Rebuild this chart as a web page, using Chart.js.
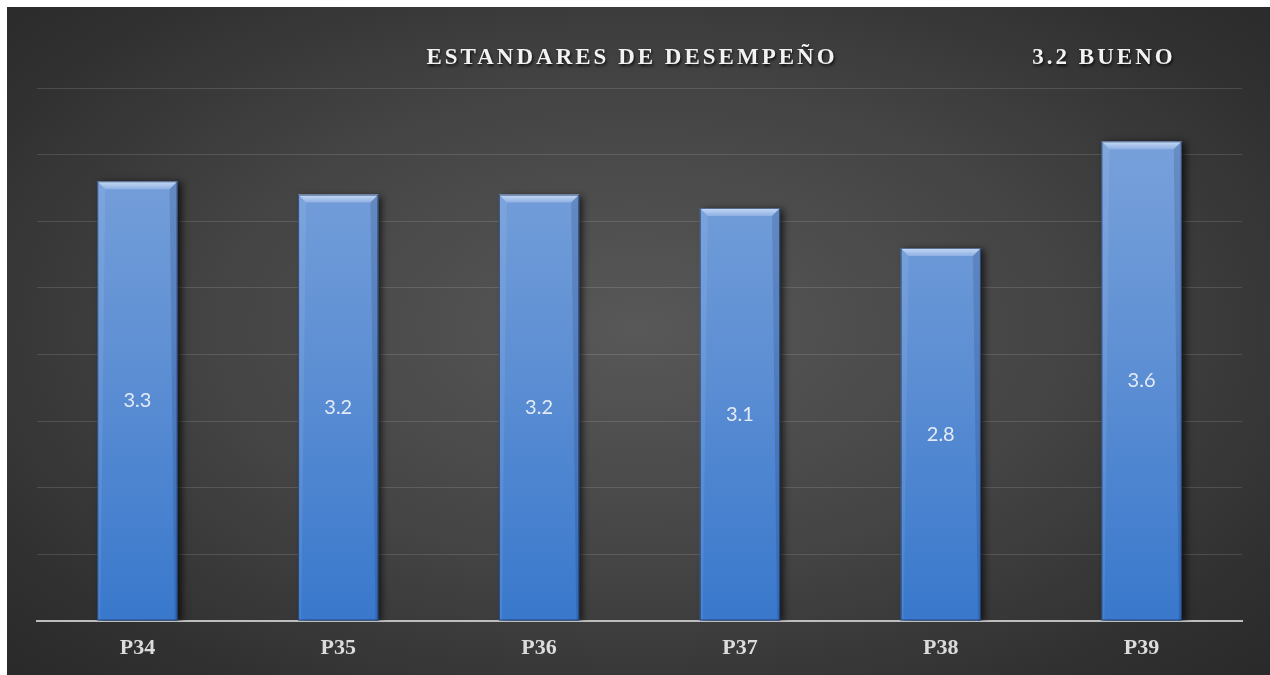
<!DOCTYPE html>
<html lang="es">
<head>
    <meta charset="UTF-8">
    <title>Estandares de desempeño</title>
    <script src="https://cdn.jsdelivr.net/npm/chart.js"></script>
    <style>
        html, body { margin: 0; padding: 0; background: #fff; }
        .panel {
            position: absolute; left: 7px; top: 7px;
            width: 1263px; height: 668px;
            background: radial-gradient(ellipse 75% 80% at 50% 48%, #585858 0%, #444 45%, #2f2f2f 80%, #272727 100%);
        }
    </style>
</head>
<body>
    <div class="panel">
        <canvas id="myChart"></canvas>
    </div>

    <script>
        // datos
        const preguntas = ["P34", "P35", "P36", "P37", "P38", "P39"];
        const promedios = [3.3, 3.2, 3.2, 3.1, 2.8, 3.6];
        const escala = { min: 0, max: 4, paso: 0.5 };
        const titulo = "ESTANDARES DE DESEMPEÑO";
        const resultado = "3.2 BUENO";

        // sombra detras de las barras
        const sombraBarras = {
            id: 'sombraBarras',
            beforeDatasetsDraw(chart) {
                const ctx = chart.ctx;
                ctx.save();
                ctx.shadowColor = 'rgba(0,0,0,0.65)';
                ctx.shadowBlur = 7;
                ctx.shadowOffsetX = 4;
                ctx.shadowOffsetY = 1;
            },
            afterDatasetsDraw(chart) {
                chart.ctx.restore();
            }
        };

        // bisel, borde y etiquetas de valor
        const biselBarras = {
            id: 'biselBarras',
            afterDatasetsDraw(chart) {
                const ctx = chart.ctx;
                const meta = chart.getDatasetMeta(0);
                meta.data.forEach((bar, i) => {
                    const p = bar.getProps(['x', 'y', 'width', 'base'], true);
                    const l = p.x - p.width / 2, r = p.x + p.width / 2;
                    const t = p.y, b = p.base, bv = 8;
                    ctx.save();
                    // bisel superior
                    let g = ctx.createLinearGradient(0, t, 0, t + bv);
                    g.addColorStop(0, '#c8dbf5');
                    g.addColorStop(1, '#8fb0e3');
                    ctx.fillStyle = g;
                    ctx.beginPath();
                    ctx.moveTo(l, t); ctx.lineTo(r, t);
                    ctx.lineTo(r - bv, t + bv); ctx.lineTo(l + bv, t + bv);
                    ctx.closePath(); ctx.fill();
                    // lados
                    ctx.fillStyle = 'rgba(255,255,255,0.08)';
                    ctx.beginPath();
                    ctx.moveTo(l, t); ctx.lineTo(l + bv, t + bv);
                    ctx.lineTo(l + 3, b); ctx.lineTo(l, b);
                    ctx.closePath(); ctx.fill();
                    ctx.fillStyle = 'rgba(0,0,30,0.12)';
                    ctx.beginPath();
                    ctx.moveTo(r, t); ctx.lineTo(r - bv, t + bv);
                    ctx.lineTo(r - 3, b); ctx.lineTo(r, b);
                    ctx.closePath(); ctx.fill();
                    // contorno
                    ctx.strokeStyle = 'rgba(25,45,85,0.7)';
                    ctx.lineWidth = 1;
                    ctx.strokeRect(l + 0.5, t + 0.5, p.width - 1, b - t - 1);
                    // valor
                    ctx.fillStyle = '#e4ebf7';
                    ctx.font = '20px Lato';
                    ctx.textAlign = 'center';
                    ctx.textBaseline = 'middle';
                    ctx.fillText(promedios[i].toFixed(1), p.x, (t + b) / 2);
                    ctx.restore();
                });
            }
        };

        // titulos con espaciado y sombra
        const titulos = {
            id: 'titulos',
            afterDraw(chart) {
                const ctx = chart.ctx;
                ctx.save();
                ctx.font = 'bold 23px "Liberation Serif"';
                ctx.letterSpacing = '3px';
                ctx.textAlign = 'center';
                ctx.textBaseline = 'middle';
                ctx.shadowColor = 'rgba(0,0,0,0.8)';
                ctx.shadowBlur = 3;
                ctx.shadowOffsetX = 1;
                ctx.shadowOffsetY = 2;
                ctx.fillStyle = '#f2f2f2';
                ctx.fillText(titulo, 625, 51);
                ctx.fillText(resultado, 1097, 51);
                ctx.restore();
            }
        };

        const ctx = document.getElementById('myChart').getContext('2d');
        const myChart = new Chart(ctx, {
            type: 'bar',
            data: {
                labels: preguntas,
                datasets: [{
                    data: promedios,
                    backgroundColor: (c) => {
                        const area = c.chart.chartArea;
                        if (!area) return '#5b8ed5';
                        const g = c.chart.ctx.createLinearGradient(0, area.top, 0, area.bottom);
                        g.addColorStop(0, '#7ea5dc');
                        g.addColorStop(0.5, '#5f90d4');
                        g.addColorStop(1, '#3978cc');
                        return g;
                    },
                    borderWidth: 0,
                    barPercentage: 0.4,
                    categoryPercentage: 1
                }]
            },
            options: {
                responsive: true,
                maintainAspectRatio: false,
                animation: false,
                layout: { padding: { left: 30, right: 28, top: 81, bottom: 0 } },
                plugins: {
                    legend: { display: false },
                    tooltip: { enabled: false }
                },
                scales: {
                    x: {
                        grid: { display: false, drawTicks: false },
                        border: { display: true, color: '#bdbdbd', width: 2 },
                        ticks: {
                            color: '#dcdcdc',
                            padding: 16,
                            font: { family: '"Liberation Serif"', size: 22, weight: 'bold', lineHeight: 1 }
                        }
                    },
                    y: {
                        min: escala.min,
                        max: escala.max,
                        ticks: { display: false, stepSize: escala.paso },
                        border: { display: false },
                        grid: { color: 'rgba(255,255,255,0.13)', lineWidth: 1, drawTicks: false }
                    }
                }
            },
            plugins: [sombraBarras, biselBarras, titulos]
        });
    </script>
</body>
</html>
